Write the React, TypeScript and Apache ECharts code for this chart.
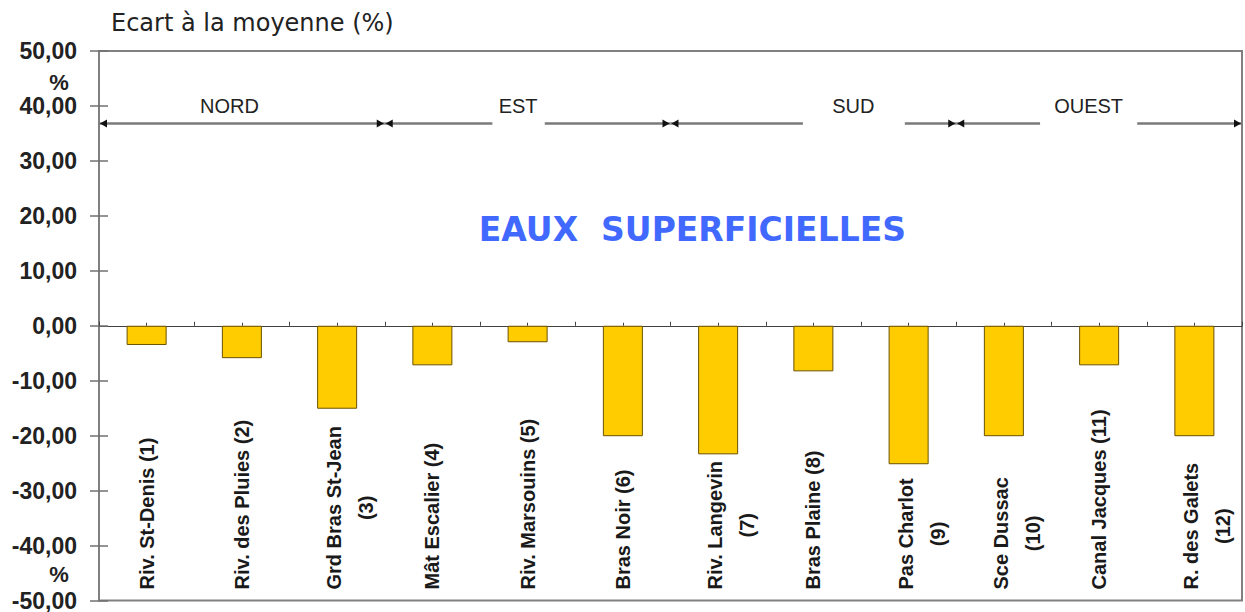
import React, { useEffect, useRef } from "react";
import * as echarts from "echarts";

const categories = [
  "Riv. St-Denis (1)",
  "Riv. des Pluies (2)",
  "Grd Bras St-Jean\n(3)",
  "Mât Escalier (4)",
  "Riv. Marsouins (5)",
  "Bras Noir (6)",
  "Riv. Langevin\n(7)",
  "Bras Plaine (8)",
  "Pas Charlot\n(9)",
  "Sce Dussac\n(10)",
  "Canal Jacques (11)",
  "R. des Galets\n(12)",
];
const ecartValues = [-3.5, -5.9, -15.1, -7.2, -3.0, -20.1, -23.4, -8.3, -25.2, -20.1, -7.2, -20.1];
const yMin = -50;
const yMax = 50;
const yStep = 10;
const regionNames = ["NORD", "EST", "SUD", "OUEST"];
const regionSizes = [3, 3, 3, 3];
// label centre (in category units) and the gap cut in the arrow line under the label
const regionLabelPos = [1.37, 4.4, 7.92, 10.39];
const regionGaps: (number[] | null)[] = [null, [4.13, 4.68], [7.39, 8.46], [9.88, 10.9]];
const titleText = "Ecart à la moyenne (%)";
const bigLabel = "EAUX  SUPERFICIELLES";
const percentMarks = [44.3, -45.3];

const fmt = (v: number) => v.toFixed(2).replace(".", ",");

export default function App() {
  const ref = useRef<HTMLDivElement>(null);
  useEffect(() => {
    if (!ref.current) return;
    const chart = echarts.init(ref.current, null, { renderer: "svg" });
    const labelFont = {
      fontFamily: "Liberation Sans, Arial, sans-serif",
      fontWeight: "bold" as const,
      fontSize: 20,
      color: "#1a1a1a",
    };
    chart.setOption({
      animation: false,
      backgroundColor: "#ffffff",
      grid: {
        left: 99,
        right: 3,
        top: 51,
        bottom: 11,
        show: true,
        borderColor: "#808080",
        borderWidth: 2,
        backgroundColor: "transparent",
      },
      xAxis: [
        {
          type: "category",
          data: categories,
          position: "bottom",
          axisLine: { onZero: true, lineStyle: { color: "#404040", width: 1 } },
          axisTick: { show: true, inside: true, length: 4, interval: 0, lineStyle: { color: "#404040" } },
          axisLabel: { show: false },
          splitLine: { show: false },
        },
        {
          type: "category",
          data: categories,
          position: "bottom",
          axisLine: { show: false, onZero: false },
          axisTick: { show: false },
          axisLabel: {
            show: true,
            inside: true,
            rotate: 90,
            interval: 0,
            margin: 11,
            formatter: (v: string) => {
              const parts = v.split("\n");
              if (parts.length > 1) return `{a|${parts[0]}}\n{b|${parts[1]}}`;
              return `{c|${v}}`;
            },
            rich: {
              a: { ...labelFont, lineHeight: 58, align: "center" },
              b: { ...labelFont, lineHeight: 6, align: "center" },
              c: { ...labelFont, lineHeight: 22 },
            },
          },
        },
        {
          type: "category",
          data: categories,
          position: "bottom",
          axisLine: { onZero: true, lineStyle: { color: "#404040", width: 1 } },
          axisTick: { show: true, inside: true, length: 3, alignWithLabel: true, interval: 0, lineStyle: { color: "#404040" } },
          axisLabel: { show: false },
        },
        {
          type: "value",
          min: 0,
          max: categories.length,
          show: false,
        },
      ],
      yAxis: [
        {
          type: "value",
          min: yMin,
          max: yMax,
          interval: yStep,
          position: "left",
          axisLine: { show: true, onZero: false, lineStyle: { color: "#808080", width: 2 } },
          axisTick: { show: true, length: 9, lineStyle: { color: "#707070", width: 1.5 } },
          axisLabel: {
            formatter: (v: number) => fmt(v),
            fontFamily: "Liberation Sans, Arial, sans-serif",
            fontWeight: "bold",
            fontSize: 23,
            color: "#222222",
            margin: 22,
          },
          splitLine: { show: false },
        },
        {
          type: "value",
          min: yMin,
          max: yMax,
          interval: yStep,
          position: "left",
          axisLine: { show: false, onZero: false },
          axisTick: { show: true, inside: true, length: 9, lineStyle: { color: "#707070", width: 1.5 } },
          axisLabel: { show: false },
          splitLine: { show: false },
        },
      ],
      series: [
        {
          type: "bar",
          data: ecartValues,
          xAxisIndex: 0,
          yAxisIndex: 0,
          barWidth: "42%",
          itemStyle: { color: "#FFCC00", borderColor: "#6b5200", borderWidth: 1 },
        },
      ],
    });

    // annotations placed through the axes' own scales
    const px = (v: number) => chart.convertToPixel({ xAxisIndex: 3 }, v) as number;
    const py = (v: number) => chart.convertToPixel({ yAxisIndex: 0 }, v) as number;
    const lineY = py(36.8);
    const labelY = py(40);
    const graphics: any[] = [];
    const lineStyle = { stroke: "#7a7a7a", lineWidth: 2.5 };
    const arrow = (tipX: number, dir: number) => ({
      type: "polygon",
      shape: {
        points: [
          [tipX, lineY],
          [tipX - dir * 7, lineY - 4],
          [tipX - dir * 7, lineY + 4],
        ],
      },
      style: { fill: "#111111" },
      z: 10,
    });
    let start = 0;
    regionNames.forEach((name, i) => {
      const end = start + regionSizes[i];
      const x0 = px(start);
      const x1 = px(end);
      const gap = regionGaps[i];
      if (gap) {
        graphics.push({ type: "line", shape: { x1: x0, y1: lineY, x2: px(gap[0]), y2: lineY }, style: lineStyle, z: 9 });
        graphics.push({ type: "line", shape: { x1: px(gap[1]), y1: lineY, x2: x1, y2: lineY }, style: lineStyle, z: 9 });
      } else {
        graphics.push({ type: "line", shape: { x1: x0, y1: lineY, x2: x1, y2: lineY }, style: lineStyle, z: 9 });
      }
      graphics.push(arrow(x0 + 1, -1));
      graphics.push(arrow(x1 - 1, 1));
      graphics.push({
        type: "text",
        x: px(regionLabelPos[i]),
        y: labelY,
        style: {
          text: name,
          fontFamily: "Liberation Sans, Arial, sans-serif",
          fontSize: 20,
          fill: "#222222",
          align: "center",
          verticalAlign: "middle",
        },
        z: 10,
      });
      start = end;
    });
    graphics.push({
      type: "text",
      x: 111,
      y: 23,
      style: {
        text: titleText,
        fontFamily: "DejaVu Sans, sans-serif",
        fontSize: 24,
        fill: "#222222",
        align: "left",
        verticalAlign: "middle",
      },
    });
    graphics.push({
      type: "text",
      x: px(6.23),
      y: py(17.5),
      style: {
        text: bigLabel,
        fontFamily: "DejaVu Sans, sans-serif",
        fontWeight: "bold",
        fontSize: 33,
        fill: "#4169ff",
        align: "center",
        verticalAlign: "middle",
      },
    });
    percentMarks.forEach((v) => {
      graphics.push({
        type: "text",
        x: 59,
        y: py(v),
        style: {
          text: "%",
          fontFamily: "Liberation Sans, Arial, sans-serif",
          fontWeight: "bold",
          fontSize: 22,
          fill: "#222222",
          align: "center",
          verticalAlign: "middle",
        },
      });
    });
    chart.setOption({ graphic: graphics });

    return () => chart.dispose();
  }, []);
  return (
    <div
      ref={ref}
      style={{ position: "fixed", left: 0, top: 0, width: 1245, height: 612, background: "#fff" }}
    />
  );
}
